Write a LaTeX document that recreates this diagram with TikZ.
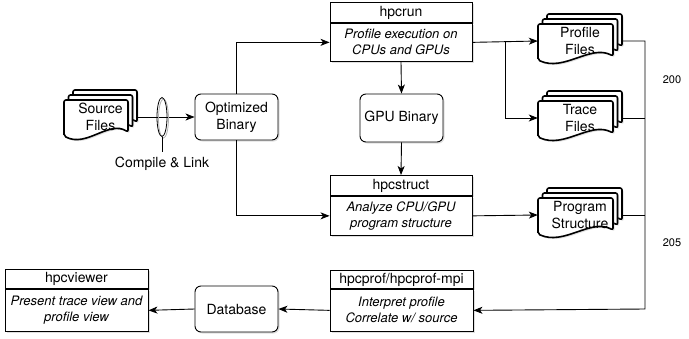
\documentclass[tikz,border=0pt]{standalone}
\usepackage{fontspec}
\setmainfont{TeX Gyre Heros}
\usetikzlibrary{arrows.meta,shapes.geometric,shadows}

\tikzset{
  base/.style={font=\fontsize{14}{17}\selectfont, align=center, inner sep=0pt},
  shade/.style={drop shadow={opacity=0.25, shadow xshift=1.5pt, shadow yshift=-1.5pt}},
  roundbox/.style={base, draw, fill=white, line width=0.9pt, rounded corners=6pt,
    minimum width=83pt, minimum height=46pt, shade},
  lanehead/.style={base, draw, fill=white, line width=0.9pt, anchor=north,
    minimum width=142pt, minimum height=20pt, shade},
  lanebody/.style={draw, fill=white, line width=0.9pt, anchor=north, align=center,
    inner sep=0pt, font=\fontsize{13}{16}\selectfont\itshape,
    minimum width=142pt, minimum height=40pt, shade},
  docline/.style={line width=1.6pt, fill=white, rounded corners=2pt, shade},
  flow/.style={line width=0.9pt, -{Stealth[length=9pt,width=7pt,inset=2.5pt]}},
  wire/.style={line width=0.9pt},
  numtext/.style={font=\fontsize{11}{13}\selectfont, inner sep=0pt}
}

% stack of three documents: name, centre x, centre y, width of front sheet, text
\newcommand{\multidoc}[5]{%
  \foreach \dx/\dy in {9/-10, 4.5/-5, 0/0} {
    \pgfmathsetmacro\dl{#2-(#4+9)/2+\dx}
    \pgfmathsetmacro\dt{#3-17+\dy}
    \draw[docline] ({\dl},{\dt+36}) -- ({\dl},{\dt}) -- ({\dl+#4},{\dt})
      -- ({\dl+#4},{\dt+32})
      .. controls ({\dl+0.7*#4},{\dt+20}) and ({\dl+0.35*#4},{\dt+48}) .. ({\dl},{\dt+36}) -- cycle;
  }
  \node[base, minimum width={(#4+9)*1pt}, minimum height=36pt] (#1) at (#2,#3) {#5};
}

\begin{document}
\begin{tikzpicture}[x=1pt,y=-1pt]
  \useasboundingbox (0,0) rectangle (689,338);

  % Files
  \multidoc{source}{100.5}{117}{64}{Source\\Files}
  \multidoc{profile}{580}{41}{75}{Profile\\Files}
  \multidoc{trace}{580}{118}{75}{Trace\\Files}
  \multidoc{program}{580}{215}{75}{Program\\Structure}

  % Binaries and database
  \node[roundbox] (optbin) at (236.5,117) {Optimized\\Binary};
  \node[roundbox, minimum height=48pt] (gpubin) at (401.5,118) {GPU Binary};
  \node[roundbox] (database) at (236.5,309) {Database};

  % Tools
  \node[lanehead] (hpcrun-head) at (401,2) {hpcrun};
  \node[lanebody, minimum height=38pt] (hpcrun) at (hpcrun-head.south) {Profile execution on\\CPUs and GPUs};
  \node[lanehead] (hpcstruct-head) at (401,175) {hpcstruct};
  \node[lanebody, minimum height=39pt] (hpcstruct) at (hpcstruct-head.south) {Analyze CPU/GPU\\program structure};
  \node[lanehead, minimum width=143pt, minimum height=18pt] (hpcprof-head) at (401.5,270) {hpcprof/hpcprof-mpi};
  \node[lanebody, minimum width=143pt, minimum height=42pt] (hpcprof) at (hpcprof-head.south) {Interpret profile\\Correlate w/ source};
  \node[lanehead, minimum width=143pt, minimum height=19pt] (hpcviewer-head) at (76.5,269) {hpcviewer};
  \node[lanebody, minimum width=143pt, minimum height=42pt] (hpcviewer) at (hpcviewer-head.south) {Present trace view and\\profile view};

  % Compile and link
  \draw[flow] (source.east) -- (optbin.west);
  \draw[gray!60, line width=0.8pt] (163.5,118.5) ellipse [x radius=5pt, y radius=19.5pt];
  \node[draw, ellipse, line width=0.8pt, inner sep=0pt, minimum width=10pt, minimum height=39pt] (link) at (162,117) {};
  \coordinate (linkend) at (162,152);
  \draw[wire] (link.south) -- (linkend);
  \node[base] (linklabel) at (162,164) {Compile \& Link};

  % Connectors
  \draw[flow] (optbin.north) |- (hpcrun.west);
  \draw[flow] (optbin.south) |- (hpcstruct.west);
  \draw[flow] (hpcrun.south) -- (gpubin.north);
  \draw[flow] (gpubin.south) -- (hpcstruct-head.north);
  \draw[flow] (hpcrun.east) -- (profile.west);
  \coordinate (fork) at (505,41);
  \draw[flow] (fork) |- (trace.west);
  \draw[flow] (hpcstruct.east) -- (program.west);

  % Bus back to hpcprof
  \coordinate (bus) at (645,309);
  \draw[flow] (profile.east) -| (bus) -- (hpcprof.east);
  \foreach \doc in {trace, program} {
    \draw[wire] (\doc.east) -- (\doc.east -| bus);
  }
  \draw[flow] (hpcprof.west) -- (database.east);
  \draw[flow] (database.west) -- (hpcviewer.east);

  % Numbers
  \node[numtext] (n200) at (672,80) {200};
  \node[numtext] (n205) at (672,243) {205};
\end{tikzpicture}
\end{document}
